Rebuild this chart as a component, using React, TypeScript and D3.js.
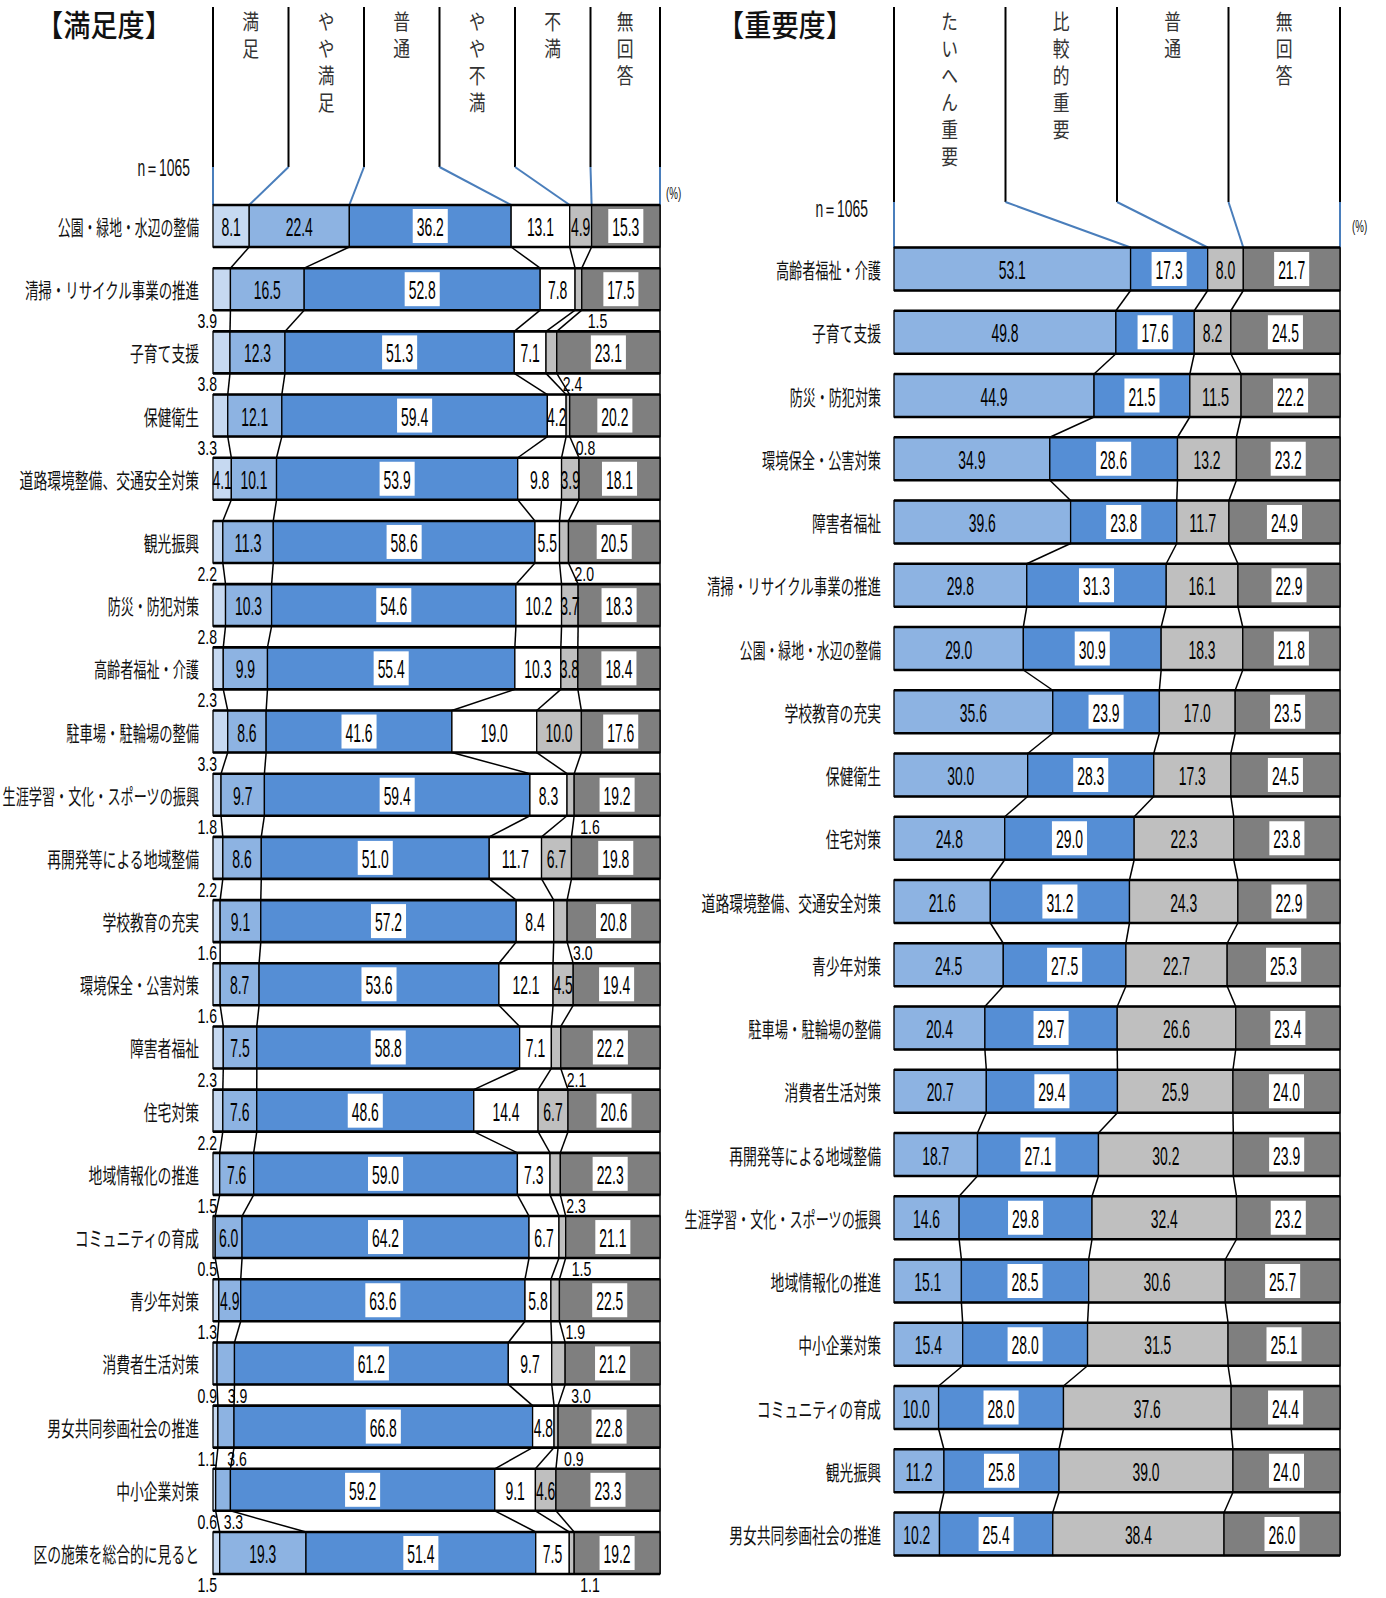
import React from "react";
import * as d3 from "d3";

// ---------- 満足度 data ----------
const satCategories = [
  "公園・緑地・水辺の整備",
  "清掃・リサイクル事業の推進",
  "子育て支援",
  "保健衛生",
  "道路環境整備、交通安全対策",
  "観光振興",
  "防災・防犯対策",
  "高齢者福祉・介護",
  "駐車場・駐輪場の整備",
  "生涯学習・文化・スポーツの振興",
  "再開発等による地域整備",
  "学校教育の充実",
  "環境保全・公害対策",
  "障害者福祉",
  "住宅対策",
  "地域情報化の推進",
  "コミュニティの育成",
  "青少年対策",
  "消費者生活対策",
  "男女共同参画社会の推進",
  "中小企業対策",
  "区の施策を総合的に見ると",
];
const satManzoku = [8.1, 3.9, 3.8, 3.3, 4.1, 2.2, 2.8, 2.3, 3.3, 1.8, 2.2, 1.6, 1.6, 2.3, 2.2, 1.5, 0.5, 1.3, 0.9, 1.1, 0.6, 1.5];
const satYayaManzoku = [22.4, 16.5, 12.3, 12.1, 10.1, 11.3, 10.3, 9.9, 8.6, 9.7, 8.6, 9.1, 8.7, 7.5, 7.6, 7.6, 6.0, 4.9, 3.9, 3.6, 3.3, 19.3];
const satFutsu = [36.2, 52.8, 51.3, 59.4, 53.9, 58.6, 54.6, 55.4, 41.6, 59.4, 51.0, 57.2, 53.6, 58.8, 48.6, 59.0, 64.2, 63.6, 61.2, 66.8, 59.2, 51.4];
const satYayaFuman = [13.1, 7.8, 7.1, 4.2, 9.8, 5.5, 10.2, 10.3, 19.0, 8.3, 11.7, 8.4, 12.1, 7.1, 14.4, 7.3, 6.7, 5.8, 9.7, 4.8, 9.1, 7.5];
const satFuman = [4.9, 1.5, 2.4, 0.8, 3.9, 2.0, 3.7, 3.8, 10.0, 1.6, 6.7, 3.0, 4.5, 2.1, 6.7, 2.3, 1.5, 1.9, 3.0, 0.9, 4.6, 1.1];
const satMukaitou = [15.3, 17.5, 23.1, 20.2, 18.1, 20.5, 18.3, 18.4, 17.6, 19.2, 19.8, 20.8, 19.4, 22.2, 20.6, 22.3, 21.1, 22.5, 21.2, 22.8, 23.3, 19.2];
const satSeriesNames = ["満足", "やや満足", "普通", "やや不満", "不満", "無回答"];

// ---------- 重要度 data ----------
const impCategories = [
  "高齢者福祉・介護",
  "子育て支援",
  "防災・防犯対策",
  "環境保全・公害対策",
  "障害者福祉",
  "清掃・リサイクル事業の推進",
  "公園・緑地・水辺の整備",
  "学校教育の充実",
  "保健衛生",
  "住宅対策",
  "道路環境整備、交通安全対策",
  "青少年対策",
  "駐車場・駐輪場の整備",
  "消費者生活対策",
  "再開発等による地域整備",
  "生涯学習・文化・スポーツの振興",
  "地域情報化の推進",
  "中小企業対策",
  "コミュニティの育成",
  "観光振興",
  "男女共同参画社会の推進",
];
const impTaihen = [53.1, 49.8, 44.9, 34.9, 39.6, 29.8, 29.0, 35.6, 30.0, 24.8, 21.6, 24.5, 20.4, 20.7, 18.7, 14.6, 15.1, 15.4, 10.0, 11.2, 10.2];
const impHikaku = [17.3, 17.6, 21.5, 28.6, 23.8, 31.3, 30.9, 23.9, 28.3, 29.0, 31.2, 27.5, 29.7, 29.4, 27.1, 29.8, 28.5, 28.0, 28.0, 25.8, 25.4];
const impFutsu = [8.0, 8.2, 11.5, 13.2, 11.7, 16.1, 18.3, 17.0, 17.3, 22.3, 24.3, 22.7, 26.6, 25.9, 30.2, 32.4, 30.6, 31.5, 37.6, 39.0, 38.4];
const impMukaitou = [21.7, 24.5, 22.2, 23.2, 24.9, 22.9, 21.8, 23.5, 24.5, 23.8, 22.9, 25.3, 23.4, 24.0, 23.9, 23.2, 25.7, 25.1, 24.4, 24.0, 26.0];
const impSeriesNames = ["たいへん重要", "比較的重要", "普通", "無回答"];

const nLabel = "n＝1065";

const NUM_FONT = "'Liberation Sans', Arial, sans-serif";
const JP_FONT = "'Noto Sans CJK JP', 'Noto Sans', sans-serif";

type OutsideMode = null | { thr: number; mode: "left" | "afterStart" | "afterEnd" };

type ChartProps = {
  categories: string[];
  series: number[][];
  names: string[];
  colors: string[];
  boxed: boolean[];
  outside: OutsideMode[];
  x0: number;
  x1: number;
  c0: number;
  cN: number;
  barH: number;
  colW: number;
  headerTop: number;
  headerBottom: number;
  labelRight: number;
  title: string;
  titleX: number;
  nX: number;
  nY: number;
  pctX: number;
  pctY: number;
};

// condensed numeric text: width fixed via textLength
const numWidth = (s: string, size: number, sx: number) =>
  s.split("").reduce((a, ch) => a + (ch === "." || ch === "(" || ch === ")" ? 0.3 : ch === "＝" ? 0.9 : ch === "%" ? 0.89 : 0.556), 0) *
  size *
  sx;

function NText(props: {
  x: number;
  y: number;
  sx: number;
  size: number;
  anchor?: string;
  fill?: string;
  children: string;
}) {
  const { x, y, sx, size, anchor = "middle", fill = "#000", children } = props;
  return (
    <text
      x={x}
      y={y}
      textAnchor={anchor}
      dominantBaseline="central"
      fontSize={size}
      fontFamily={NUM_FONT}
      fill={fill}
      textLength={numWidth(children, size, sx)}
      lengthAdjust="spacingAndGlyphs"
    >
      {children}
    </text>
  );
}

// estimated rendered width of a category label (proportional middle dot)
const jpWidth = (s: string) => s.split("").reduce((a, ch) => a + (ch === "・" ? 8.5 : 13.8), 0);

function StackChart(p: ChartProps) {
  const x = d3.scaleLinear().domain([0, 100]).range([p.x0, p.x1]);
  const y = d3.scalePoint<string>().domain(p.categories).range([p.c0, p.cN]);
  const step = (p.cN - p.c0) / (p.categories.length - 1);
  const hb = p.barH / 2;

  const rows = p.categories.map((cat, i) => {
    const vals = p.series.map((s) => s[i]);
    const total = d3.sum(vals);
    const ends = Array.from(d3.cumsum(vals)).map((c) => (c / total) * 100);
    const starts = [0, ...ends.slice(0, -1)];
    return { cat, vals, starts, ends, cy: y(cat) as number };
  });

  const nCols = p.series.length;
  const headerXs = d3.range(nCols + 1).map((k) => (k < nCols ? p.x0 + k * p.colW : p.x1));
  const first = rows[0];
  const last = rows[rows.length - 1];

  const numSize = 25;
  const numSx = 0.55;

  return (
    <g>
      {/* title */}
      <text
        x={p.titleX}
        y={23}
        dominantBaseline="central"
        fontSize={30}
        fontFamily={JP_FONT}
        fontWeight={500}
        fill="#111"
        textLength={136}
        lengthAdjust="spacingAndGlyphs"
      >
        {p.title}
      </text>
      {/* header column lines */}
      {headerXs.map((hx, k) => (
        <line key={"h" + k} x1={hx} x2={hx} y1={p.headerTop} y2={p.headerBottom} stroke="#000" strokeWidth={2} />
      ))}
      {/* header texts (vertical) */}
      {p.names.map((name, k) => {
        const cx = (headerXs[k] + headerXs[k + 1]) / 2;
        return (
          <text
            key={"hn" + k}
            transform={`translate(${cx},11) scale(0.8,1)`}
            style={{ writingMode: "vertical-rl" as any }}
            fontSize={21}
            letterSpacing={6}
            fontFamily={JP_FONT}
            fill="#333"
          >
            {name}
          </text>
        );
      })}
      {/* blue connectors from header to first bar */}
      {headerXs.map((hx, k) => {
        const bx = k === 0 ? x(0) : x(first.ends[k - 1]);
        return (
          <line
            key={"bc" + k}
            x1={hx}
            y1={p.headerBottom}
            x2={bx}
            y2={first.cy - hb}
            stroke="#4a7ebb"
            strokeWidth={2}
          />
        );
      })}
      {/* n and (%) */}
      <NText x={p.nX} y={p.nY} sx={0.62} size={23} anchor="end" fill="#111">
        {nLabel}
      </NText>
      <NText x={p.pctX} y={p.pctY} sx={0.6} size={17} anchor="start" fill="#111">
        (%)
      </NText>
      {/* right plot border */}
      <line x1={p.x1} x2={p.x1} y1={first.cy - hb} y2={last.cy + hb} stroke="#000" strokeWidth={1.5} />
      {/* connectors between rows */}
      {rows.slice(0, -1).map((r, i) => {
        const nx = rows[i + 1];
        return r.ends.slice(0, -1).map((e, k) => (
          <line
            key={`c${i}-${k}`}
            x1={x(e)}
            y1={r.cy + hb}
            x2={x(nx.ends[k])}
            y2={nx.cy - hb}
            stroke="#000"
            strokeWidth={1.5}
          />
        ));
      })}
      {/* bars */}
      {rows.map((r, i) => (
        <g key={"r" + i}>
          <text
            x={p.labelRight}
            y={r.cy}
            textAnchor="end"
            dominantBaseline="central"
            fontSize={21}
            fontFamily={JP_FONT}
            fill="#111"
            textLength={jpWidth(r.cat)}
            lengthAdjust="spacingAndGlyphs"
          >
            {r.cat}
          </text>
          {r.vals.map((v, k) => (
            <rect
              key={k}
              x={x(r.starts[k])}
              y={r.cy - hb}
              width={Math.max(0, x(r.ends[k]) - x(r.starts[k]))}
              height={p.barH}
              fill={p.colors[k]}
              stroke="#000"
              strokeWidth={1.3}
            />
          ))}
          <line x1={p.x0} x2={p.x1} y1={r.cy - hb} y2={r.cy - hb} stroke="#000" strokeWidth={2.6} />
          <line x1={p.x0} x2={p.x1} y1={r.cy + hb} y2={r.cy + hb} stroke="#000" strokeWidth={2.6} />
          {r.vals.map((v, k) => {
            const label = v.toFixed(1);
            const o = p.outside[k];
            const sx0 = x(r.starts[k]);
            const sx1 = x(r.ends[k]);
            if (o && v < o.thr) {
              const gy = r.cy + step / 2;
              if (o.mode === "left")
                return (
                  <NText key={"l" + k} x={p.x0 + 4} y={gy} sx={0.66} size={21} anchor="end">
                    {label}
                  </NText>
                );
              if (o.mode === "afterStart")
                return (
                  <NText key={"l" + k} x={sx1 + 3} y={gy} sx={0.66} size={21} anchor="middle">
                    {label}
                  </NText>
                );
              return (
                <NText key={"l" + k} x={sx1 + 6} y={gy} sx={0.66} size={21} anchor="start">
                  {label}
                </NText>
              );
            }
            const cx = (sx0 + sx1) / 2;
            const tw = numWidth(label, numSize, numSx);
            return (
              <g key={"l" + k}>
                {p.boxed[k] && (
                  <rect x={cx - tw / 2 - 4} y={r.cy - 17} width={tw + 8} height={34} fill="#fff" />
                )}
                <NText x={cx} y={r.cy + 1} sx={numSx} size={numSize}>
                  {label}
                </NText>
              </g>
            );
          })}
        </g>
      ))}
    </g>
  );
}

export default function App() {
  return (
    <svg width={1386} height={1598} style={{ display: "block", position: "absolute", left: 0, top: 0, background: "#fff" }}>
      <rect width={1386} height={1598} fill="#fff" />
      <StackChart
        categories={satCategories}
        series={[satManzoku, satYayaManzoku, satFutsu, satYayaFuman, satFuman, satMukaitou]}
        names={satSeriesNames}
        colors={["#c6d9f1", "#8db3e2", "#558ed5", "#ffffff", "#bfbfbf", "#7f7f7f"]}
        boxed={[false, false, true, false, false, true]}
        outside={[
          { thr: 4, mode: "left" },
          { thr: 4, mode: "afterStart" },
          null,
          null,
          { thr: 3.5, mode: "afterEnd" },
          null,
        ]}
        x0={213}
        x1={660}
        c0={226}
        cN={1553}
        barH={42}
        colW={75.5}
        headerTop={7}
        headerBottom={167}
        labelRight={199}
        title="【満足度】"
        titleX={36}
        nX={190}
        nY={168}
        pctX={666}
        pctY={193}
      />
      <StackChart
        categories={impCategories}
        series={[impTaihen, impHikaku, impFutsu, impMukaitou]}
        names={impSeriesNames}
        colors={["#8db3e2", "#558ed5", "#bfbfbf", "#7f7f7f"]}
        boxed={[false, true, false, true]}
        outside={[null, null, null, null]}
        x0={894}
        x1={1340}
        c0={269}
        cN={1534}
        barH={43}
        colW={111.5}
        headerTop={7}
        headerBottom={202}
        labelRight={881}
        title="【重要度】"
        titleX={717}
        nX={868}
        nY={209}
        pctX={1352}
        pctY={226}
      />
    </svg>
  );
}
